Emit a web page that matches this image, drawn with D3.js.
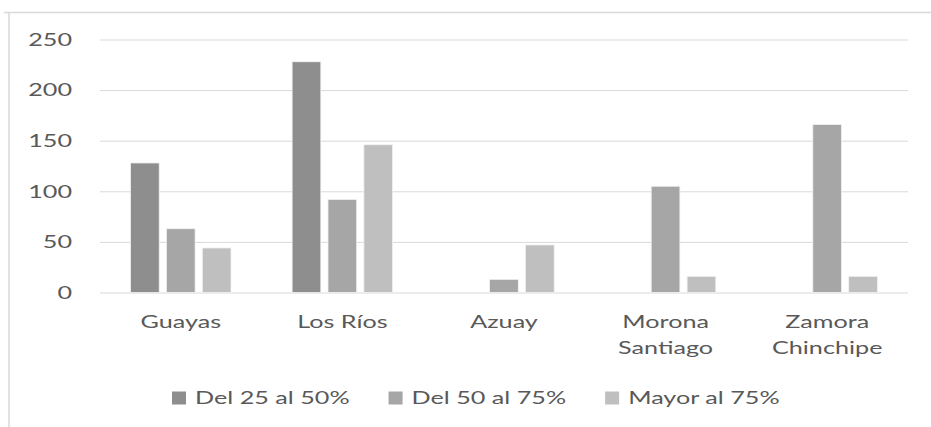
<!DOCTYPE html>
<meta charset="utf-8">
<script src="https://d3js.org/d3.v7.min.js"></script>
<style>
  body { margin: 0; background: #fff; }
  svg { display: block; }
  text { font-family: Lato, "Open Sans", sans-serif; fill: #595959; font-size: 18px; }
  .grid line { stroke: #d9d9d9; stroke-width: 1px; }
  .grid path { display: none; }
</style>
<body>
<script>
// data
var provinces = [["Guayas"], ["Los Ríos"], ["Azuay"], ["Morona", "Santiago"], ["Zamora", "Chinchipe"]];
var series = ["Del 25 al 50%", "Del 50 al 75%", "Mayor al 75%"];
var del25al50 = [128, 228, 0, 0, 0];
var del50al75 = [63, 92, 13, 105, 166];
var mayor75 = [44, 146, 47, 16, 16];
var yTicks = [0, 50, 100, 150, 200, 250];
var colors = ["#8e8e8e", "#a6a6a6", "#bfbfbf"];

var values = [del25al50, del50al75, mayor75];
var names = provinces.map(function(p) { return p.join(" "); });

var width = 931, height = 427;
var stretch = 1.4; // the picture's text is wide, so widen it

var svg = d3.select("body").append("svg")
  .attr("width", width)
  .attr("height", height);

// outer frame (only top/left edges visible)
svg.append("line").attr("x1", 4).attr("x2", width).attr("y1", 12.5).attr("y2", 12.5)
  .style("stroke", "#d9d9d9").style("stroke-width", 1.5);
svg.append("line").attr("x1", 9).attr("x2", 9).attr("y1", 12).attr("y2", height)
  .style("stroke", "#d9d9d9").style("stroke-width", 1.5);

// scales
var x0 = d3.scaleBand().domain(names).range([100, 908]).padding(0);
var x1 = d3.scaleBand().domain(series).range([30.5, 131]).paddingInner(0.2);
var y = d3.scaleLinear().domain([0, 250]).range([292.5, 39.5]);

// gridlines
var grid = svg.append("g")
  .attr("class", "grid")
  .attr("transform", "translate(100,0)")
  .call(d3.axisLeft(y).tickValues(yTicks).tickSize(0).tickFormat(""));
grid.selectAll(".tick line").attr("x1", 0).attr("x2", 808);

// y labels
svg.selectAll(".ylab")
  .data(yTicks).enter().append("text")
  .attr("class", "ylab")
  .attr("transform", function(d) { return "translate(72," + y(d) + ") scale(" + stretch + ",1)"; })
  .attr("dy", "0.35em")
  .attr("text-anchor", "end")
  .text(function(d) { return d; });

// bars
var groups = svg.selectAll(".grp")
  .data(names).enter().append("g")
  .attr("class", "grp")
  .attr("transform", function(d) { return "translate(" + x0(d) + ",0)"; });

groups.selectAll("rect")
  .data(function(d, i) { return series.map(function(s, j) { return {s: s, v: values[j][i], c: colors[j]}; }); })
  .enter().append("rect")
  .filter(function(d) { return d.v > 0; })
  .attr("x", function(d) { return x1(d.s); })
  .attr("width", x1.bandwidth())
  .attr("y", function(d) { return y(d.v); })
  .attr("height", function(d) { return y(0) - y(d.v); })
  .style("fill", function(d) { return d.c; })
  .style("stroke", "#f2f2f2")
  .style("stroke-width", 0.8);

// category labels
var labs = svg.selectAll(".xlab")
  .data(provinces).enter().append("text")
  .attr("class", "xlab")
  .attr("text-anchor", "middle")
  .attr("transform", function(d, i) {
    return "translate(" + (x0(names[i]) + x0.bandwidth() / 2) + ",322) scale(" + stretch + ",1)";
  });
labs.selectAll("tspan")
  .data(function(d) { return d; }).enter().append("tspan")
  .attr("x", 0)
  .attr("dy", function(d, i) { return i === 0 ? "0.35em" : "26"; })
  .text(function(d) { return d; });

// legend, laid out left to right from the first swatch
var leg = svg.append("g").attr("transform", "translate(172,398)");
var lx = 0;
series.forEach(function(s, i) {
  var item = leg.append("g").attr("transform", "translate(" + lx + ",0)");
  item.append("rect")
    .attr("x", 0).attr("y", -6.5)
    .attr("width", 14).attr("height", 13)
    .style("fill", colors[i]);
  var t = item.append("text")
    .attr("transform", "translate(23,0) scale(" + stretch + ",1)")
    .attr("dy", "0.35em")
    .text(s);
  lx += 23 + t.node().getComputedTextLength() * stretch + 39;
});
</script>
</body>
